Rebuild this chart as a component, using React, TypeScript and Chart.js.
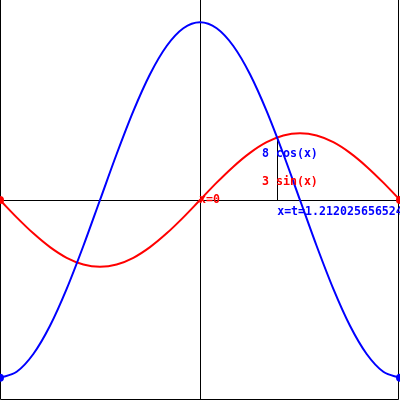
import React, { useEffect, useRef } from "react";
import { Chart, registerables } from "chart.js";

Chart.register(...registerables);

const xs = [-3.1416, -2.8798, -2.618, -2.3562, -2.0944, -1.8326, -1.5708, -1.309, -1.0472, -0.7854, -0.5236, -0.2618, 0, 0.2618, 0.5236, 0.7854, 1.0472, 1.309, 1.5708, 1.8326, 2.0944, 2.3562, 2.618, 2.8798, 3.1416];
const cosValues = [-8, -7.73, -6.93, -5.66, -4, -2.07, 0, 2.07, 4, 5.66, 6.93, 7.73, 8, 7.73, 6.93, 5.66, 4, 2.07, 0, -2.07, -4, -5.66, -6.93, -7.73, -8];
const sinValues = [0, -0.78, -1.5, -2.12, -2.6, -2.9, -3, -2.9, -2.6, -2.12, -1.5, -0.78, 0, 0.78, 1.5, 2.12, 2.6, 2.9, 3, 2.9, 2.6, 2.12, 1.5, 0.78, 0];
const tValue = 1.21202565652;
const tSin = 2.81;
const labelCos = "8 cos(x)";
const labelSin = "3 sin(x)";
const labelT = "x=t=1.212025656524";
const labelZero = "x=0";

const BLUE = "#0000ff";
const RED = "#ff0000";

export default function App() {
  const ref = useRef<HTMLCanvasElement | null>(null);
  useEffect(() => {
    if (!ref.current) return;
    const radii = xs.map((_, i) => (i === 0 || i === xs.length - 1 ? 4 : 0));
    const overlay = {
      id: "overlay",
      beforeDatasetsDraw(chart: any) {
        const { ctx, scales } = chart;
        const sx = scales.x, sy = scales.y;
        const x0 = Math.round(sx.getPixelForValue(0)) + 0.5;
        const y0 = Math.round(sy.getPixelForValue(0)) + 0.5;
        ctx.save();
        ctx.strokeStyle = "#000";
        ctx.lineWidth = 1;
        ctx.beginPath();
        ctx.moveTo(0, y0);
        ctx.lineTo(chart.width, y0);
        ctx.moveTo(x0, 0);
        ctx.lineTo(x0, chart.height);
        const xt = Math.round(sx.getPixelForValue(tValue)) + 0.5;
        ctx.moveTo(xt, sy.getPixelForValue(tSin));
        ctx.lineTo(xt, y0);
        // frame
        ctx.moveTo(0.5, 0);
        ctx.lineTo(0.5, chart.height - 0.5);
        ctx.lineTo(chart.width - 1.5, chart.height - 0.5);
        ctx.lineTo(chart.width - 1.5, 0);
        ctx.stroke();
        ctx.restore();
      },
      afterDatasetsDraw(chart: any) {
        const { ctx, scales } = chart;
        const sx = scales.x, sy = scales.y;
        ctx.save();
        ctx.font = "bold 11.6px 'DejaVu Sans Mono', monospace";
        ctx.textBaseline = "middle";
        ctx.textAlign = "left";
        ctx.fillStyle = BLUE;
        ctx.fillText(labelCos, sx.getPixelForValue(0.974), sy.getPixelForValue(2.05));
        ctx.fillText(labelT, sx.getPixelForValue(tValue), sy.getPixelForValue(-0.56));
        ctx.fillStyle = RED;
        ctx.fillText(labelSin, sx.getPixelForValue(0.974), sy.getPixelForValue(0.83));
        ctx.fillText(labelZero, sx.getPixelForValue(0) - 1, sy.getPixelForValue(0));
        ctx.restore();
      },
    };
    const chart = new Chart(ref.current, {
      type: "scatter",
      data: {
        datasets: [
          {
            data: xs.map((x, i) => ({ x, y: cosValues[i] })),
            showLine: true,
            borderColor: BLUE,
            backgroundColor: BLUE,
            borderWidth: 2,
            pointRadius: radii,
            pointBorderWidth: 0,
            cubicInterpolationMode: "monotone",
          },
          {
            data: xs.map((x, i) => ({ x, y: sinValues[i] })),
            showLine: true,
            borderColor: RED,
            backgroundColor: RED,
            borderWidth: 2,
            pointRadius: radii,
            pointBorderWidth: 0,
            cubicInterpolationMode: "monotone",
          },
        ],
      },
      options: {
        responsive: false,
        animation: false,
        layout: { padding: 0, autoPadding: false },
        plugins: { legend: { display: false }, tooltip: { enabled: false } },
        scales: {
          x: { type: "linear", min: -Math.PI, max: Math.PI, display: false },
          y: { type: "linear", min: -9, max: 9, display: false },
        },
      },
      plugins: [overlay],
    });
    return () => chart.destroy();
  }, []);
  return (
    <div style={{ position: "absolute", left: 0, top: 0, width: 400, height: 400, background: "#fff" }}>
      <canvas ref={ref} width={400} height={400} style={{ display: "block" }} />
    </div>
  );
}
